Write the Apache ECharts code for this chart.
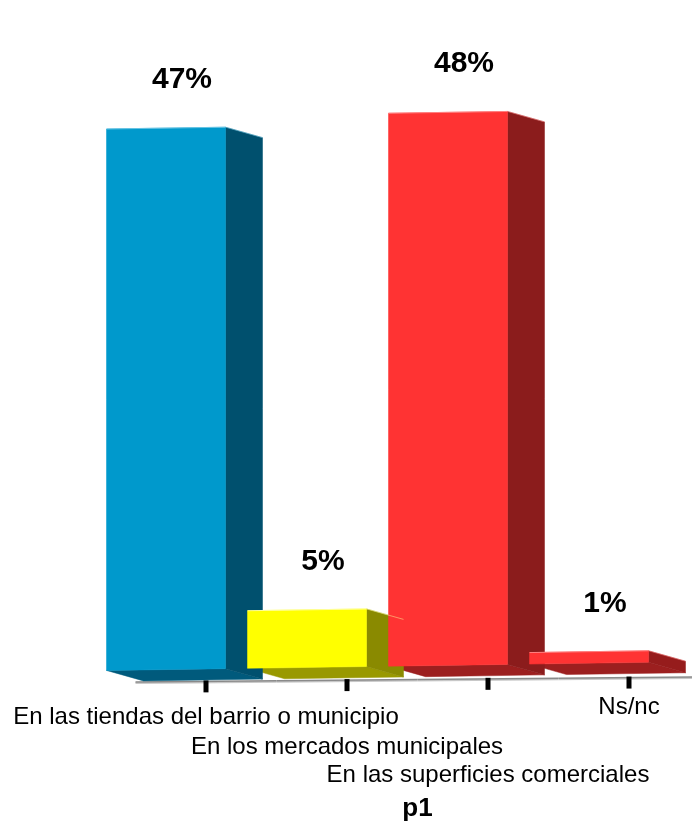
<!DOCTYPE html>
<html><head><meta charset="utf-8">
<script src="https://cdn.jsdelivr.net/npm/echarts@6/dist/echarts.min.js"></script>
<style>html,body{margin:0;padding:0;background:#fff}#c{width:692px;height:824px}</style>
</head><body><div id="c"></div>
<script>
const categories = ['En las tiendas del barrio o municipio', 'En los mercados municipales', 'En las superficies comerciales', 'Ns/nc'];
const values = [47, 5, 48, 1];
const valueLabels = ['47%', '5%', '48%', '1%'];
const axisTitle = 'p1';

const frontColors = ['#0099CC', '#FFFF00', '#FF3333', '#FF3333'];
const sideColors = ['#00506E', '#8A8A00', '#8B1C1C', '#961C1C'];
const bottomColors = ['#005A7C', '#999900', '#9C1F1F', '#9C1F1F'];
const edgeColors = ['#66C4E4', '#FFFF99', '#FF8080', '#FF8080'];
const labelRows = ['r1', 'r2', 'r3', 'r0'];

const DEPTH_X = 37, DEPTH_Y = 11, FRONT_SHIFT = -40, BAR_W = 119;
const SLANT = 0.015, AXIS_SLANT = 0.009;
const FONT = '"Liberation Sans", Arial, Helvetica, sans-serif';

function renderBar(params, api) {
  const i = api.value(0);
  const v = api.value(1);
  const base = api.coord([i, 0]);
  const top = api.coord([i, v]);
  const band = api.size([1, 0])[0];
  const x0 = params.coordSys.x;
  const sl = (x, y) => [x, y - SLANT * (x - x0)];
  const al = (x, y) => [x, y - AXIS_SLANT * (x - x0)];
  const yb = base[1];
  const h = yb - top[1];
  const fcx = base[0] + FRONT_SHIFT;
  const fl = fcx - BAR_W / 2, fr = fcx + BAR_W / 2;
  const fb = yb - 1 - DEPTH_Y;
  const ft = fb - h;
  const front = [sl(fl, ft), sl(fr, ft), sl(fr, fb), sl(fl, fb)];
  const side = [sl(fr, ft), sl(fr + DEPTH_X, ft + DEPTH_Y), sl(fr + DEPTH_X, fb + DEPTH_Y), sl(fr, fb)];
  const bottom = [sl(fl, fb), sl(fr, fb), sl(fr + DEPTH_X, fb + DEPTH_Y), sl(fl + DEPTH_X, fb + DEPTH_Y)];
  const a1 = al(base[0] - band / 2, yb), a2 = al(base[0] + band / 2, yb);
  const tk = al(base[0], yb);
  const lblPos = sl(fcx + 16, ft);
  return {
    type: 'group',
    children: [
      { type: 'line', z2: 1, shape: { x1: a1[0], y1: a1[1] + 1, x2: a2[0], y2: a2[1] + 1 }, style: { stroke: '#C8C8C8', lineWidth: 2 } },
      { type: 'line', z2: 2, shape: { x1: a1[0], y1: a1[1], x2: a2[0], y2: a2[1] }, style: { stroke: '#8A8A8A', lineWidth: 1.5 } },
      { type: 'rect', z2: 3, shape: { x: tk[0] - 2.5, y: tk[1] - 1, width: 5, height: 12 }, style: { fill: '#000' } },
      { type: 'polygon', z2: 10, shape: { points: bottom }, style: { fill: bottomColors[i], stroke: bottomColors[i], lineWidth: 0.5 } },
      { type: 'polygon', z2: 11, shape: { points: side }, style: { fill: sideColors[i], stroke: sideColors[i], lineWidth: 0.5 } },
      { type: 'polygon', z2: 12, shape: { points: front }, style: { fill: frontColors[i], stroke: frontColors[i], lineWidth: 0.5 } },
      { type: 'line', z2: 13, shape: { x1: front[0][0], y1: front[0][1], x2: front[1][0], y2: front[1][1] }, style: { stroke: edgeColors[i], lineWidth: 1 } },
      { type: 'line', z2: 13, shape: { x1: side[0][0], y1: side[0][1], x2: side[1][0], y2: side[1][1] }, style: { stroke: edgeColors[i], lineWidth: 0.8, opacity: 0.6 } },
      { type: 'text', z2: 20, style: { text: valueLabels[i], x: lblPos[0], y: lblPos[1] - 33, align: 'center', verticalAlign: 'bottom', font: 'bold 30px ' + FONT, fill: '#000' } }
    ]
  };
}

const chart = echarts.init(document.getElementById('c'), null, { renderer: 'canvas' });
chart.setOption({
  animation: false,
  backgroundColor: '#fff',
  grid: { left: 135.5, right: -7.5, top: 106, bottom: 142, containLabel: false, outerBoundsMode: 'none' },
  xAxis: {
    type: 'category',
    data: categories,
    boundaryGap: true,
    axisLine: { show: false },
    axisTick: { show: false },
    axisLabel: {
      interval: 0,
      hideOverlap: false,
      margin: 13,
      color: '#000',
      fontFamily: FONT,
      fontSize: 24,
      formatter: (val, idx) => '{' + labelRows[idx] + '|' + val + '}',
      rich: {
        r0: { fontSize: 24, lineHeight: 24, fontFamily: FONT, color: '#000', padding: [0, 0, 0, 0] },
        r1: { fontSize: 24, lineHeight: 24, fontFamily: FONT, color: '#000', padding: [20, 0, 0, 0] },
        r2: { fontSize: 24, lineHeight: 24, fontFamily: FONT, color: '#000', padding: [80, 0, 0, 0] },
        r3: { fontSize: 24, lineHeight: 24, fontFamily: FONT, color: '#000', padding: [136, 0, 0, 0] }
      }
    },
    name: axisTitle,
    nameLocation: 'middle',
    nameGap: 114,
    nameTextStyle: { fontFamily: FONT, fontSize: 26, fontWeight: 'bold', color: '#000' },
    splitLine: { show: false }
  },
  yAxis: { type: 'value', min: 0, max: 50, show: false, splitLine: { show: false } },
  series: [{
    type: 'custom',
    renderItem: renderBar,
    encode: { x: 0, y: 1 },
    clip: false,
    data: values.map((v, i) => [i, v])
  }]
});
</script>
</body></html>
